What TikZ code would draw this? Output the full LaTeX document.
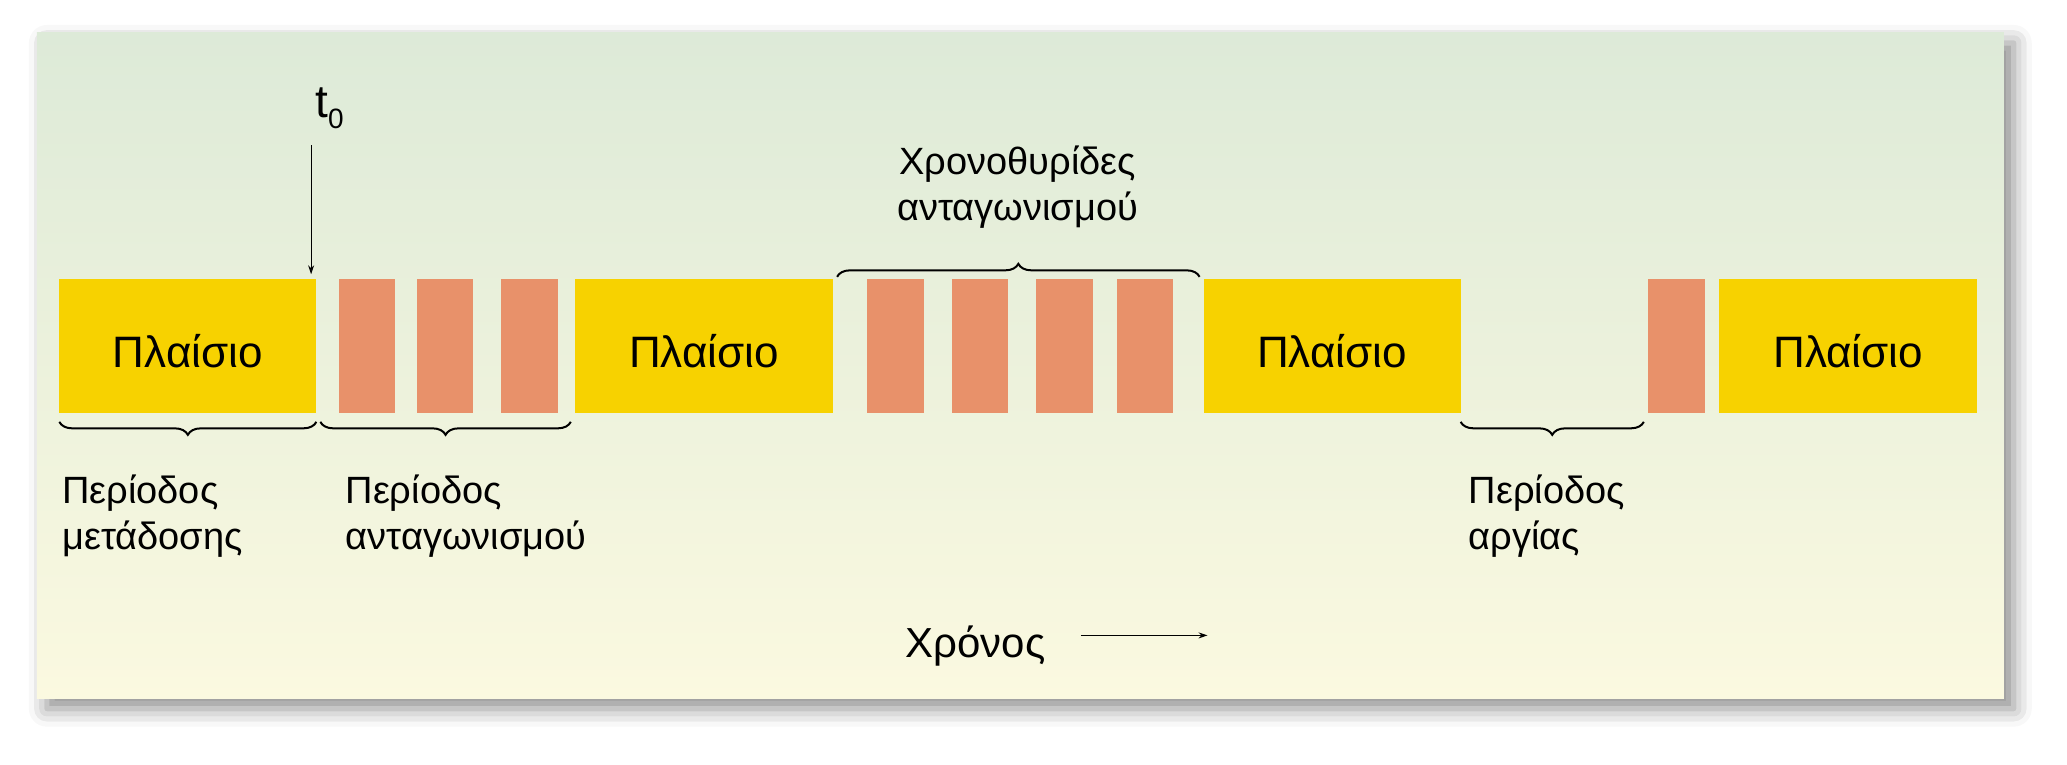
\documentclass[tikz,border=0pt]{standalone}
\usepackage{fontspec}
\setmainfont{Liberation Sans}
\usetikzlibrary{decorations.pathreplacing,arrows.meta,shadows.blur}
\definecolor{frameY}{HTML}{F7D200}
\definecolor{slotO}{HTML}{E8916A}
\definecolor{bgTop}{HTML}{DDEAD8}
\definecolor{bgBot}{HTML}{FBF9E0}
\begin{document}
\begin{tikzpicture}[x=1.318pt,y=-1.318pt,
  frm/.style={fill=frameY,draw=none,inner sep=0pt,font=\fontsize{44}{50}\selectfont},
  slot/.style={fill=slotO,draw=none},
  brc/.style={decorate,decoration={brace,amplitude=13pt},line width=2pt},
  lbl/.style={font=\fontsize{38}{46}\selectfont,align=left,inner sep=0pt,anchor=north west},
  arr/.style={-{Stealth[length=9pt,width=6pt]},line width=1pt}]
\useasboundingbox (0,0) rectangle (1568,580);
\fill[bgTop,blur shadow={shadow xshift=10pt,shadow yshift=-10pt,shadow blur radius=18pt,shadow opacity=45}] (28,25) rectangle (1520,530);
\shade[top color=bgTop,bottom color=bgBot] (28,25) rectangle (1520,530);
% frames
\foreach \a/\b/\n in {45/240/f1,436/632/f2,913/1108/f3,1304/1500/f4}{
  \fill[frameY] (\a,212) rectangle (\b,313);
  \node[font=\fontsize{44}{50}\selectfont] (\n) at ({(\a+\b)/2},266) {Πλαίσιο};
}
\foreach \a in {257,316,380,658,722,786,847,1250}{
  \fill[slotO] (\a,212) rectangle ({\a+43},313);
}
% braces
\coordinate (b1a) at (240,320); \coordinate (b1b) at (45,320);
\coordinate (b2a) at (433,320); \coordinate (b2b) at (243,320);
\coordinate (b3a) at (1247,320); \coordinate (b3b) at (1108,320);
\coordinate (b4a) at (635,210); \coordinate (b4b) at (910,210);
\draw[brc] (b1a) -- (b1b);
\draw[brc] (b2a) -- (b2b);
\draw[brc] (b3a) -- (b3b);
\draw[brc] (b4a) -- (b4b);
% labels
\node[lbl] (l1) at (47,360) {Περίοδος\\μετάδοσης};
\node[lbl] (l2) at (262,360) {Περίοδος\\ανταγωνισμού};
\node[lbl] (l3) at (1114,360) {Περίοδος\\αργίας};
\node[font=\fontsize{38}{46}\selectfont,align=center] (l4) at (772,142) {Χρονοθυρίδες\\ανταγωνισμού};
% t0
\node[font=\fontsize{46}{50}\selectfont,inner sep=0pt] (t0) at (250,82) {t\raisebox{-0.25em}{\fontsize{28}{30}\selectfont 0}};
\coordinate (t0a) at (236,110); \coordinate (t0b) at (236,208);
\draw[arr] (t0a) -- (t0b);
% time
\node[font=\fontsize{42}{50}\selectfont,inner sep=0pt] (xr) at (740,490) {Χρόνος};
\coordinate (xa) at (820,482); \coordinate (xb) at (916,482);
\draw[arr,line width=1.3pt] (xa) -- (xb);
\end{tikzpicture}
\end{document}
